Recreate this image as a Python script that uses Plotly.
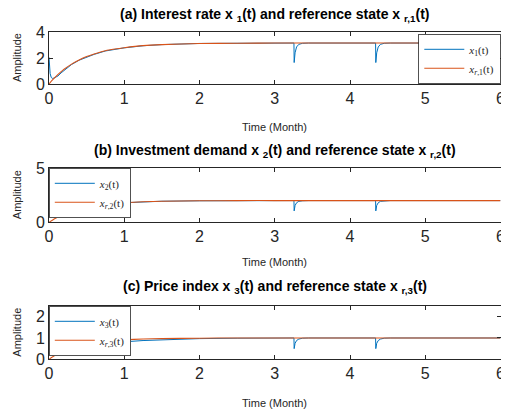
import plotly.graph_objects as go

# ---------------- data ----------------
t_state = [0, 0.005, 0.015, 0.03, 0.05, 0.08, 0.12, 0.16, 0.2, 0.25, 0.3, 0.4, 0.5, 0.6,
           0.75, 0.875, 1.0, 1.25, 1.5, 2.0, 2.5, 3.0,
           3.255, 3.258, 3.27, 3.29, 3.32, 3.37, 3.45,
           4.34, 4.343, 4.355, 4.375, 4.405, 4.455, 4.535, 6.0]

x1 = [2.05, 1.4, 0.8, 0.5, 0.42, 0.5, 0.62, 0.85, 1.05, 1.28, 1.5, 1.83, 2.08, 2.28,
      2.54, 2.68, 2.78, 2.94, 3.03, 3.12, 3.14, 3.15,
      3.15, 1.65, 2.4, 2.85, 3.05, 3.13, 3.15,
      3.15, 1.65, 2.4, 2.85, 3.05, 3.13, 3.15, 3.15]

x2 = [2.0, 1.2, 0.7, 0.58, 0.55, 0.55, 0.56, 0.64, 0.75, 0.88, 1.0, 1.2, 1.37, 1.5,
      1.65, 1.74, 1.8, 1.89, 1.94, 1.98, 2.0, 2.0,
      2.0, 1.05, 1.55, 1.8, 1.93, 1.98, 2.0,
      2.0, 1.05, 1.55, 1.8, 1.93, 1.98, 2.0, 2.0]

x3 = [1.0, 0.9, 0.82, 0.78, 0.74, 0.67, 0.58, 0.5, 0.43, 0.37, 0.35, 0.43, 0.54, 0.62,
      0.71, 0.77, 0.82, 0.88, 0.92, 0.97, 0.99, 1.0,
      1.0, 0.5, 0.75, 0.88, 0.95, 0.99, 1.0,
      1.0, 0.5, 0.75, 0.88, 0.95, 0.99, 1.0, 1.0]

t_ref = [0, 0.05, 0.1, 0.15, 0.2, 0.3, 0.4, 0.5, 0.6, 0.75, 0.875, 1.0, 1.25, 1.5, 2.0, 2.5, 3.0, 6.0]
xr1 = [0, 0.33, 0.63, 0.89, 1.13, 1.53, 1.85, 2.11, 2.31, 2.56, 2.69, 2.79, 2.95, 3.03, 3.11, 3.14, 3.15, 3.15]
xr2 = [0, 0.22, 0.41, 0.59, 0.74, 1.0, 1.21, 1.37, 1.51, 1.65, 1.74, 1.8, 1.89, 1.94, 1.98, 2.0, 2.0, 2.0]
xr3 = [0, 0.12, 0.22, 0.31, 0.39, 0.53, 0.63, 0.71, 0.78, 0.85, 0.89, 0.92, 0.95, 0.97, 0.99, 1.0, 1.0, 1.0]

titles = ["(a) Interest rate x <sub>1</sub>(t) and reference state x <sub>r,1</sub>(t)",
          "(b) Investment demand x <sub>2</sub>(t) and reference state x <sub>r,2</sub>(t)",
          "(c) Price index x <sub>3</sub>(t) and reference state x <sub>r,3</sub>(t)"]
state_names = ["<i>x</i><sub>1</sub>(t)", "<i>x</i><sub>2</sub>(t)", "<i>x</i><sub>3</sub>(t)"]
ref_names = ["<i>x</i><sub><i>r</i>,1</sub>(t)", "<i>x</i><sub><i>r</i>,2</sub>(t)",
             "<i>x</i><sub><i>r</i>,3</sub>(t)"]
y_ranges = [[0, 4], [0, 5], [0, 2.5]]
y_ticks = [[0, 2, 4], [0, 5], [0, 1, 2]]
x_ticks = [0, 1, 2, 3, 4, 5, 6]

# ---------------- layout geometry (screen pixels) ----------------
OFF = 8  # page body margin
W, H = 509 - OFF, 418 - 2 * OFF
L, R = 49, 500.5
panels = [(32, 84), (168, 222.3), (306, 359.3)]  # (top, bottom) px
title_y = [15, 151, 287]
xlabel_y = [127, 262, 403]

BLUE = "#0072BD"
ORANGE = "#D95319"
AX = "#262626"

def py(p):
    return 1 - (p - OFF) / H

def px(p):
    return (p - OFF) / W

fig = go.Figure()
states = [x1, x2, x3]
refs = [xr1, xr2, xr3]
legend_ids = ["legend", "legend2", "legend3"]

layout = dict(width=W, height=H, margin=dict(l=0, r=0, t=0, b=0, autoexpand=False),
              template="none",
              paper_bgcolor="white", plot_bgcolor="white",
              font=dict(family="Liberation Sans, Arial, sans-serif", color=AX),
              annotations=[])

for i in range(3):
    xa = "x" if i == 0 else f"x{i+1}"
    ya = "y" if i == 0 else f"y{i+1}"
    fig.add_trace(go.Scatter(x=t_state, y=states[i], mode="lines", name=state_names[i],
                             line=dict(color=BLUE, width=1), xaxis=xa, yaxis=ya,
                             legend=legend_ids[i]))
    fig.add_trace(go.Scatter(x=t_ref, y=refs[i], mode="lines", name=ref_names[i],
                             line=dict(color=ORANGE, width=1.1, shape="spline", smoothing=0.6),
                             xaxis=xa, yaxis=ya, legend=legend_ids[i]))
    top, bot = panels[i]
    kx = "xaxis" if i == 0 else f"xaxis{i+1}"
    ky = "yaxis" if i == 0 else f"yaxis{i+1}"
    layout[kx] = dict(domain=[px(L), px(R)], range=[0, 6], tickvals=x_ticks,
                      anchor=ya, showline=True, linecolor=AX, linewidth=0.8,
                      mirror="ticks", ticks="inside", ticklen=4, tickcolor=AX,
                      showgrid=False, zeroline=False, automargin=False,
                      ticklabeloverflow="allow",
                      tickfont=dict(size=16, color=AX))
    layout[ky] = dict(domain=[py(bot), py(top)], range=y_ranges[i], tickvals=y_ticks[i],
                      anchor=xa, showline=True, linecolor=AX, linewidth=0.8,
                      mirror="ticks", ticks="inside", ticklen=4, tickcolor=AX,
                      showgrid=False, zeroline=False, automargin=False,
                      tickfont=dict(size=16, color=AX))
    layout["annotations"].append(dict(text="<b>" + titles[i] + "</b>", x=px((L + R) / 2),
                                      y=py(title_y[i]), xref="paper", yref="paper",
                                      showarrow=False, xanchor="center", yanchor="middle",
                                      font=dict(size=14, color="black")))
    layout["annotations"].append(dict(text="Time (Month)", x=px((L + R) / 2),
                                      y=py(xlabel_y[i]), xref="paper", yref="paper",
                                      showarrow=False, xanchor="center", yanchor="middle",
                                      font=dict(size=11, color=AX)))
    layout["annotations"].append(dict(text="Amplitude", x=px(17),
                                      y=py((top + bot) / 2), xref="paper", yref="paper",
                                      showarrow=False, xanchor="center", yanchor="middle",
                                      textangle=-90, font=dict(size=11, color=AX)))

leg_common = dict(bgcolor="white", bordercolor=AX, borderwidth=0.8,
                  font=dict(family="Liberation Serif, Times New Roman, serif", size=11, color=AX),
                  tracegroupgap=0, itemwidth=40)
layout["legend"] = dict(x=px(R), y=py(panels[0][1]), xanchor="right", yanchor="bottom", **leg_common)
layout["legend2"] = dict(x=px(L), y=py(panels[1][0]), xanchor="left", yanchor="top", **leg_common)
layout["legend3"] = dict(x=px(L), y=py(panels[2][0]), xanchor="left", yanchor="top", **leg_common)
layout["showlegend"] = True

fig.update_layout(**layout)
fig.write_html("out.html")
